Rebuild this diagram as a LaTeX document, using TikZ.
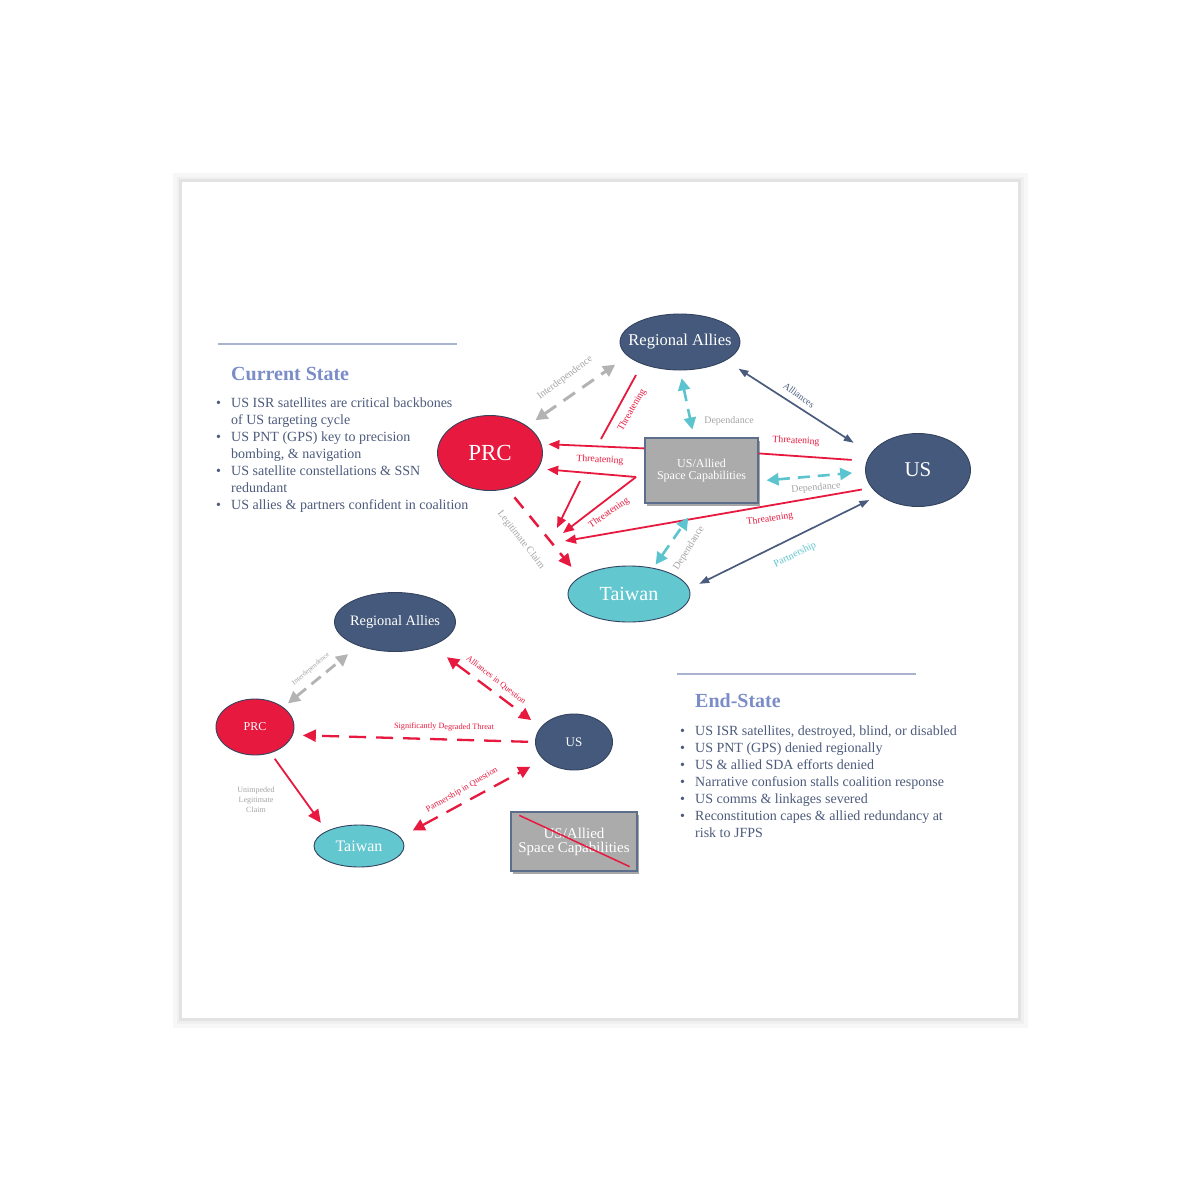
\documentclass[tikz,border=0pt]{standalone}
\usepackage{fontspec}
\setmainfont{Liberation Serif}
\usetikzlibrary{arrows.meta,shapes.geometric,shadows}
\definecolor{cNavy}{HTML}{44597B}
\definecolor{cCrim}{HTML}{E8193F}
\definecolor{cCyan}{HTML}{63C7D0}
\definecolor{cCyanL}{HTML}{5CC4CE}
\definecolor{cEdge}{HTML}{34435F}
\definecolor{cBox}{HTML}{ABABAB}
\definecolor{cBoxE}{HTML}{5D6D8C}
\definecolor{cGrayD}{HTML}{B3B3B3}
\definecolor{cLab}{HTML}{A5A5A5}
\definecolor{cTxt}{HTML}{4D5B7C}
\definecolor{cHead}{HTML}{7B8DC8}
\definecolor{cRule}{HTML}{A9B2CF}
\definecolor{cNavL}{HTML}{4A5C7E}
\newcommand\myfs[1]{\fontsize{#1}{#1}\selectfont}
\begin{document}
\begin{tikzpicture}[x=1pt,y=-1pt,
  ell/.style={ellipse, draw=cEdge, line width=0.9pt, inner sep=0pt, text=white},
  capbox/.style={rectangle, draw=cBoxE, line width=1.2pt, fill=cBox, text=white, align=center, inner sep=0pt,
     drop shadow={shadow xshift=2pt, shadow yshift=-3pt, opacity=.35, fill=black}},
  lab/.style={inner sep=0pt},
  redl/.style={draw=cCrim, line width=1.8pt},
  navl/.style={draw=cNavL, line width=1.7pt},
  gdash/.style={draw=cGrayD, line width=3pt, dash pattern=on 14pt off 9pt},
  cdash/.style={draw=cCyanL, line width=2.6pt, dash pattern=on 12pt off 8pt},
  rdash/.style={draw=cCrim, line width=2.5pt, dash pattern=on 14pt off 10pt},
  rdashb/.style={draw=cCrim, line width=2.3pt, dash pattern=on 17pt off 10pt},
  dd/.style={>={Triangle[length=12pt,width=12pt]}, <->},
  de/.style={>={Triangle[length=13pt,width=12pt]}, ->},
  sd/.style={>={Triangle[length=11pt,width=9pt]}, ->},
  nd/.style={>={Triangle[length=10pt,width=7pt]}, <->},
  bl/.style={anchor=base west, inner sep=0pt, text=cTxt, font=\myfs{14}},
  hd/.style={anchor=base west, inner sep=0pt, text=cHead, font=\bfseries\myfs{20}}
]
\useasboundingbox (0,0) rectangle (1200,1200);
\fill[white] (0,0) rectangle (1200,1200);
% page frame
\draw[black!3, line width=9pt] (177,177) rectangle (1023,1023);
\draw[black!6, line width=5pt] (179,179) rectangle (1021,1021);
\draw[black!11, line width=2.5pt] (180.5,180.5) rectangle (1019.5,1019.5);
\fill[white] (182,182) rectangle (1018,1018);

% ---------- text blocks ----------
\draw[cRule, line width=1.2pt] (218,344) -- (457,344);
\node[hd] (csh) at (231,380) {Current State};
\node[bl] (cs1) at (216,407) {\makebox[15pt][l]{\textbullet}US ISR satellites are critical backbones};
\node[bl] (cs2) at (231,424) {of US targeting cycle};
\node[bl] (cs3) at (216,441) {\makebox[15pt][l]{\textbullet}US PNT (GPS) key to precision};
\node[bl] (cs4) at (231,458) {bombing, \& navigation};
\node[bl] (cs5) at (216,475) {\makebox[15pt][l]{\textbullet}US satellite constellations \& SSN};
\node[bl] (cs6) at (231,492) {redundant};
\node[bl] (cs7) at (216,509) {\makebox[15pt][l]{\textbullet}US allies \& partners confident in coalition};

\draw[cRule, line width=1.2pt] (677,674) -- (916,674);
\node[hd] (esh) at (695,707) {End-State};
\node[bl] (es1) at (680,735) {\makebox[15pt][l]{\textbullet}US ISR satellites, destroyed, blind, or disabled};
\node[bl] (es2) at (680,752) {\makebox[15pt][l]{\textbullet}US PNT (GPS) denied regionally};
\node[bl] (es3) at (680,769) {\makebox[15pt][l]{\textbullet}US \& allied SDA efforts denied};
\node[bl] (es4) at (680,786) {\makebox[15pt][l]{\textbullet}Narrative confusion stalls coalition response};
\node[bl] (es5) at (680,803) {\makebox[15pt][l]{\textbullet}US comms \& linkages severed};
\node[bl] (es6) at (680,820) {\makebox[15pt][l]{\textbullet}Reconstitution capes \& allied redundancy at};
\node[bl] (es7) at (695,837) {risk to JFPS};

% ---------- top diagram ----------
\node[ell, fill=cNavy, minimum width=120pt, minimum height=56pt, font=\myfs{16.5}] (ra) at (680,342) {\makebox[0pt]{Regional Allies}};
\node[ell, fill=cCrim, minimum width=105pt, minimum height=75pt, font=\myfs{23}] (prc) at (490,453) {\makebox[0pt]{PRC}};
\node[ell, fill=cNavy, minimum width=105pt, minimum height=73pt, font=\myfs{21}] (us) at (918,470) {\makebox[0pt]{US}};
\node[ell, fill=cCyan, minimum width=122pt, minimum height=56pt, font=\myfs{20}] (tw) at (629,594) {\makebox[0pt]{Taiwan}};
\node[capbox, minimum width=113pt, minimum height=65pt, font=\fontsize{12}{12.5}\selectfont] (box) at (701.5,470.5) {US/Allied\\Space Capabilities};

\coordinate (r1) at (636,375);
\coordinate (r2) at (601,439);
\coordinate (j1) at (636,477);
\coordinate (s1) at (580,481);
\coordinate (tA) at (557,528);
\coordinate (tB) at (563,533);
\coordinate (tC) at (565,541);

\draw[gdash, dd, shorten <=10pt, shorten >=15pt] (prc.36) -- (ra.195);
\draw[redl] (r1) -- (r2);
\draw[redl, sd, shorten >=7pt] ([yshift=-11pt]box.north west) -- (prc.10);
\draw[redl, sd, shorten >=9pt] (j1) -- (prc.-18);
\draw[redl, sd] (j1) -- (tB);
\draw[redl, sd] (s1) -- (tA);
\draw[redl, sd, shorten <=10pt] (us.201) -- (tC);
\draw[redl, shorten >=15pt] ([yshift=-16pt]box.north east) -- (us.170);
\draw[cdash, dd, shorten <=8pt, shorten >=8pt] (ra.south) -- ([xshift=-7.5pt]box.north);
\draw[cdash, dd, shorten <=8pt, shorten >=13pt] ([yshift=-10.5pt]box.east) -- (us.182);
\draw[cdash, dd, shorten <=4pt, shorten >=17pt] (tw.47) -- ([xshift=-3.5pt]box.south);
\draw[navl, nd, shorten <=15pt, shorten >=20pt] (ra.-22) -- (us.161);
\draw[navl, nd, shorten <=11pt, shorten >=11pt] (us.213) -- (tw.5.6);
\draw[rdash, de, shorten <=11pt, shorten >=13pt] (prc.-64) -- (tw.161);

\node[lab, text=cLab, font=\myfs{10}, rotate=37] (lInt) at (565,378) {Interdependence};
\node[lab, text=cCrim, font=\myfs{9.7}, rotate=60] (lThrA) at (632,410) {Threatening};
\node[lab, text=cCrim, font=\myfs{9.7}, rotate=-3] (lThrB) at (600,460) {Threatening};
\node[lab, text=cCrim, font=\myfs{9.7}, rotate=-3] (lThrC) at (796,441) {Threatening};
\node[lab, text=cCrim, font=\myfs{9.7}, rotate=35] (lThrD) at (609,513) {Threatening};
\node[lab, text=cCrim, font=\myfs{9.7}, rotate=9] (lThrE) at (770,519) {Threatening};
\node[lab, text=cLab, font=\myfs{10}] (lDepA) at (729,421) {Dependance};
\node[lab, text=cLab, font=\myfs{10}, rotate=5] (lDepB) at (816,488) {Dependance};
\node[lab, text=cLab, font=\myfs{10}, rotate=58] (lDepC) at (689,548) {Dependance};
\node[lab, text=cNavL, font=\myfs{9.5}, rotate=-36] (lAll) at (799,395) {Alliances};
\node[lab, text=cCyanL, font=\myfs{10}, rotate=26] (lPart) at (795,555) {Partnership};
\node[lab, text=cLab, font=\myfs{10}, rotate=-52] (lLeg) at (521,540) {Legitimate Claim};

% ---------- bottom diagram ----------
\node[ell, fill=cNavy, minimum width=121pt, minimum height=59pt, font=\myfs{14.4}] (ra2) at (395,622) {\makebox[0pt]{Regional Allies}};
\node[ell, fill=cCrim, minimum width=78pt, minimum height=56pt, font=\myfs{12}] (prc2) at (255,727) {\makebox[0pt]{PRC}};
\node[ell, fill=cNavy, minimum width=77pt, minimum height=56pt, font=\myfs{13}] (us2) at (574,742) {\makebox[0pt]{US}};
\node[ell, fill=cCyan, minimum width=90pt, minimum height=42pt, font=\myfs{16}] (tw2) at (359,846) {\makebox[0pt]{Taiwan}};
\node[capbox, minimum width=126pt, minimum height=59pt, font=\fontsize{15}{14}\selectfont] (box2) at (574,841.5) {US/Allied\\Space Capabilities};
\draw[cCrim, line width=1.5pt] ([shift={(9pt,-4pt)}]box2.north west) -- ([shift={(-8pt,5pt)}]box2.south east);

\draw[gdash, line width=2.8pt, dash pattern=on 12pt off 7pt, dd, shorten <=6pt, shorten >=13pt] (prc2.35) -- (ra2.213);
\draw[rdashb, dd, shorten <=19pt, shorten >=12pt] (ra2.-33) -- (us2.156);
\draw[rdashb, de, shorten <=7pt, shorten >=10pt] (us2.west) -- (prc2.-12);
\draw[redl, de, shorten <=7pt, shorten >=10pt] (prc2.-59) -- (tw2.155);
\draw[rdashb, dd, shorten <=14pt, shorten >=15pt] (tw2.12.5) -- (us2.210);

\node[lab, text=cLab, font=\myfs{7}, rotate=40] (lInt2) at (311,669) {Interdependence};
\node[lab, text=cCrim, font=\myfs{8.4}, rotate=-38] (lAiQ) at (496,680) {Alliances in Question};
\node[lab, text=cCrim, font=\myfs{8.2}, rotate=-1] (lSDT) at (444,727) {Significantly Degraded Threat};
\node[lab, text=cLab, font=\fontsize{8}{10}\selectfont, align=center] (lULC) at (256,800) {Unimpeded\\Legitimate\\Claim};
\node[lab, text=cCrim, font=\myfs{8.6}, rotate=30] (lPiQ) at (462,790) {Partnership in Question};
\end{tikzpicture}
\end{document}
